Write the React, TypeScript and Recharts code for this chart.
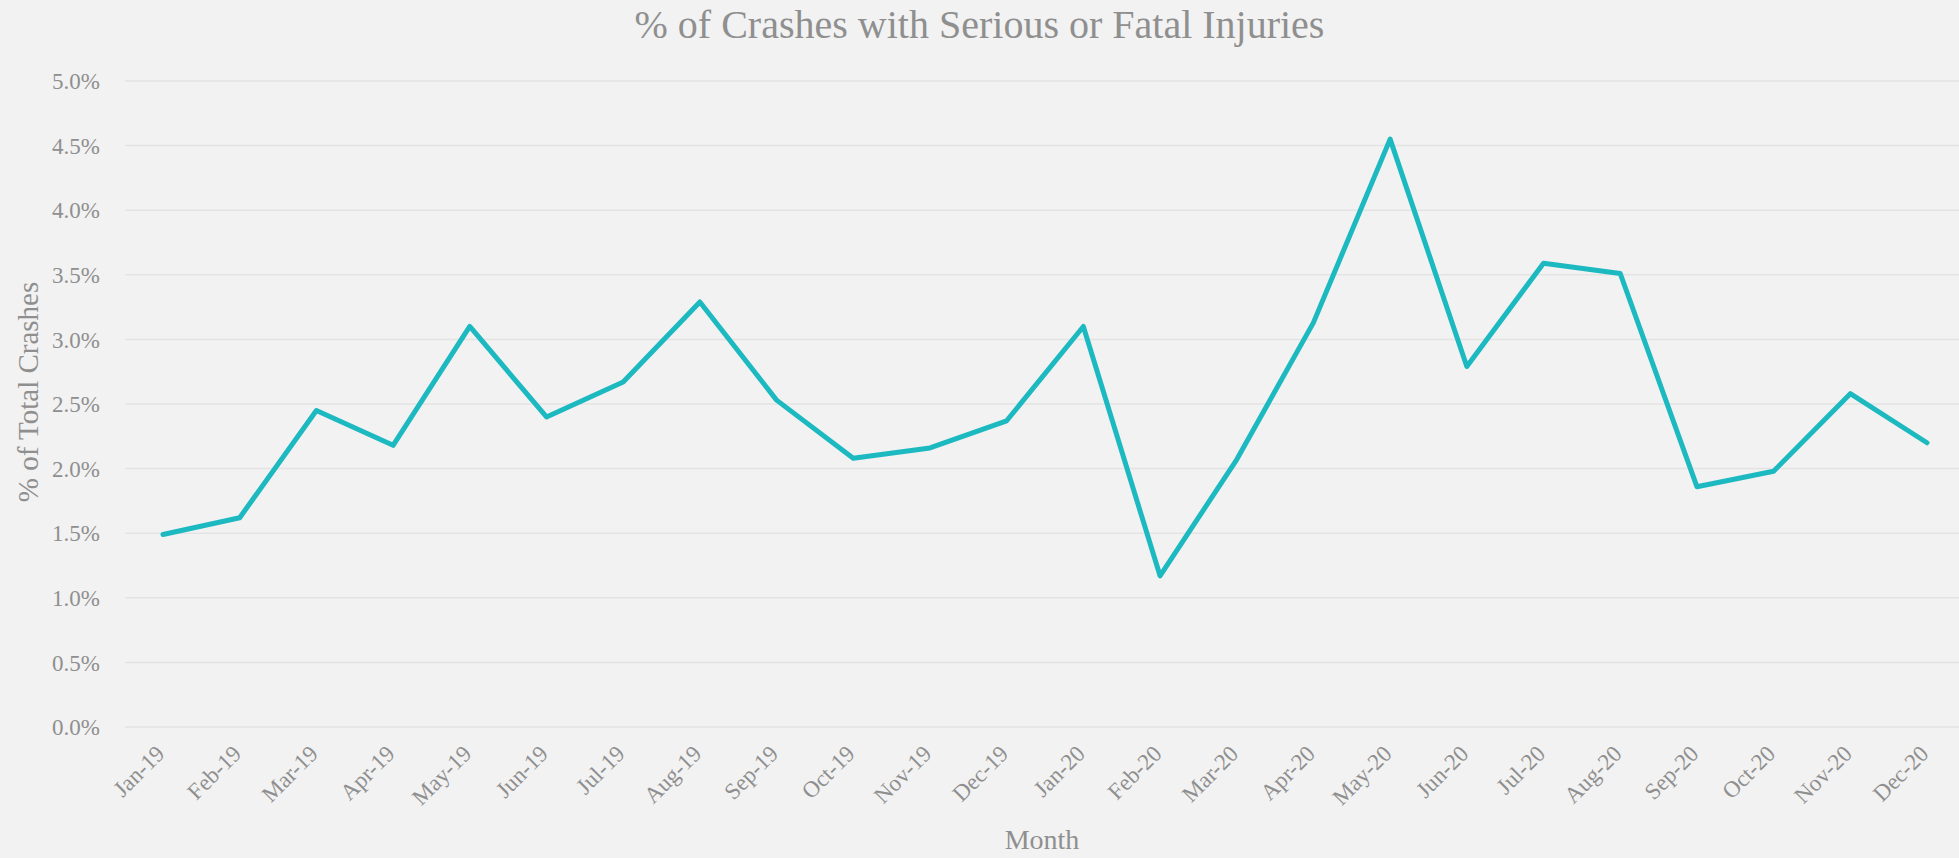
import React from 'react';
import { LineChart, Line, XAxis, YAxis, CartesianGrid } from 'recharts';

const months = [
  'Jan-19', 'Feb-19', 'Mar-19', 'Apr-19', 'May-19', 'Jun-19', 'Jul-19', 'Aug-19',
  'Sep-19', 'Oct-19', 'Nov-19', 'Dec-19', 'Jan-20', 'Feb-20', 'Mar-20', 'Apr-20',
  'May-20', 'Jun-20', 'Jul-20', 'Aug-20', 'Sep-20', 'Oct-20', 'Nov-20', 'Dec-20',
];
const seriousPct = [
  1.49, 1.62, 2.45, 2.18, 3.1, 2.4, 2.67, 3.29,
  2.53, 2.08, 2.16, 2.37, 3.1, 1.17, 2.07, 3.13,
  4.55, 2.79, 3.59, 3.51, 1.86, 1.98, 2.58, 2.2,
];
const yTicks = [0, 0.5, 1, 1.5, 2, 2.5, 3, 3.5, 4, 4.5, 5];

const data = months.map((m, i) => ({ month: m, pct: seriousPct[i] }));

const FONT = '"Liberation Serif", "DejaVu Serif", serif';
const GREY = '#8f8f8f';

function MonthTick(props: any) {
  const { x, y, payload } = props;
  const tx = x + 3;
  const ty = y + 26;
  return (
    <text
      x={tx}
      y={ty}
      textAnchor="end"
      fill={GREY}
      fontSize={23}
      fontFamily={FONT}
      transform={`rotate(-45, ${tx}, ${ty})`}
    >
      {payload.value}
    </text>
  );
}

export default function App() {
  return (
    <div style={{ position: 'fixed', left: 0, top: 0, width: 1959, height: 858, background: '#f2f2f2', fontFamily: FONT }}>
      <div style={{ position: 'absolute', left: 0, width: 1959, top: 1, textAlign: 'center', fontSize: 40, color: GREY }}>
        % of Crashes with Serious or Fatal Injuries
      </div>
      <div
        style={{
          position: 'absolute', left: 28, top: 392, fontSize: 29, color: GREY, whiteSpace: 'nowrap',
          transform: 'translate(-50%, -50%) rotate(-90deg)',
        }}
      >
        % of Total Crashes
      </div>
      <div style={{ position: 'absolute', left: 1042, top: 856, fontSize: 28, color: GREY, transform: 'translate(-50%, -100%)' }}>
        Month
      </div>
      <LineChart width={1959} height={858} data={data} margin={{ top: 81, right: 0, bottom: 0, left: 25 }}>
        <CartesianGrid vertical={false} stroke="#e3e3e3" strokeWidth={1.5} />
        <XAxis
          dataKey="month"
          height={131}
          axisLine={false}
          tickLine={false}
          tickSize={0}
          interval={0}
          padding={{ left: 38, right: 32 }}
          tick={<MonthTick />}
        />
        <YAxis
          width={100}
          domain={[0, 5]}
          ticks={yTicks}
          axisLine={false}
          tickLine={false}
          tickSize={0}
          tickMargin={25}
          tickFormatter={(v: number) => v.toFixed(1) + '%'}
          tick={{ fill: GREY, fontSize: 23, fontFamily: FONT }}
        />
        <Line
          type="linear"
          dataKey="pct"
          stroke="#1cb9c1"
          strokeWidth={5}
          dot={false}
          strokeLinecap="round"
          strokeLinejoin="round"
          isAnimationActive={false}
        />
      </LineChart>
    </div>
  );
}
